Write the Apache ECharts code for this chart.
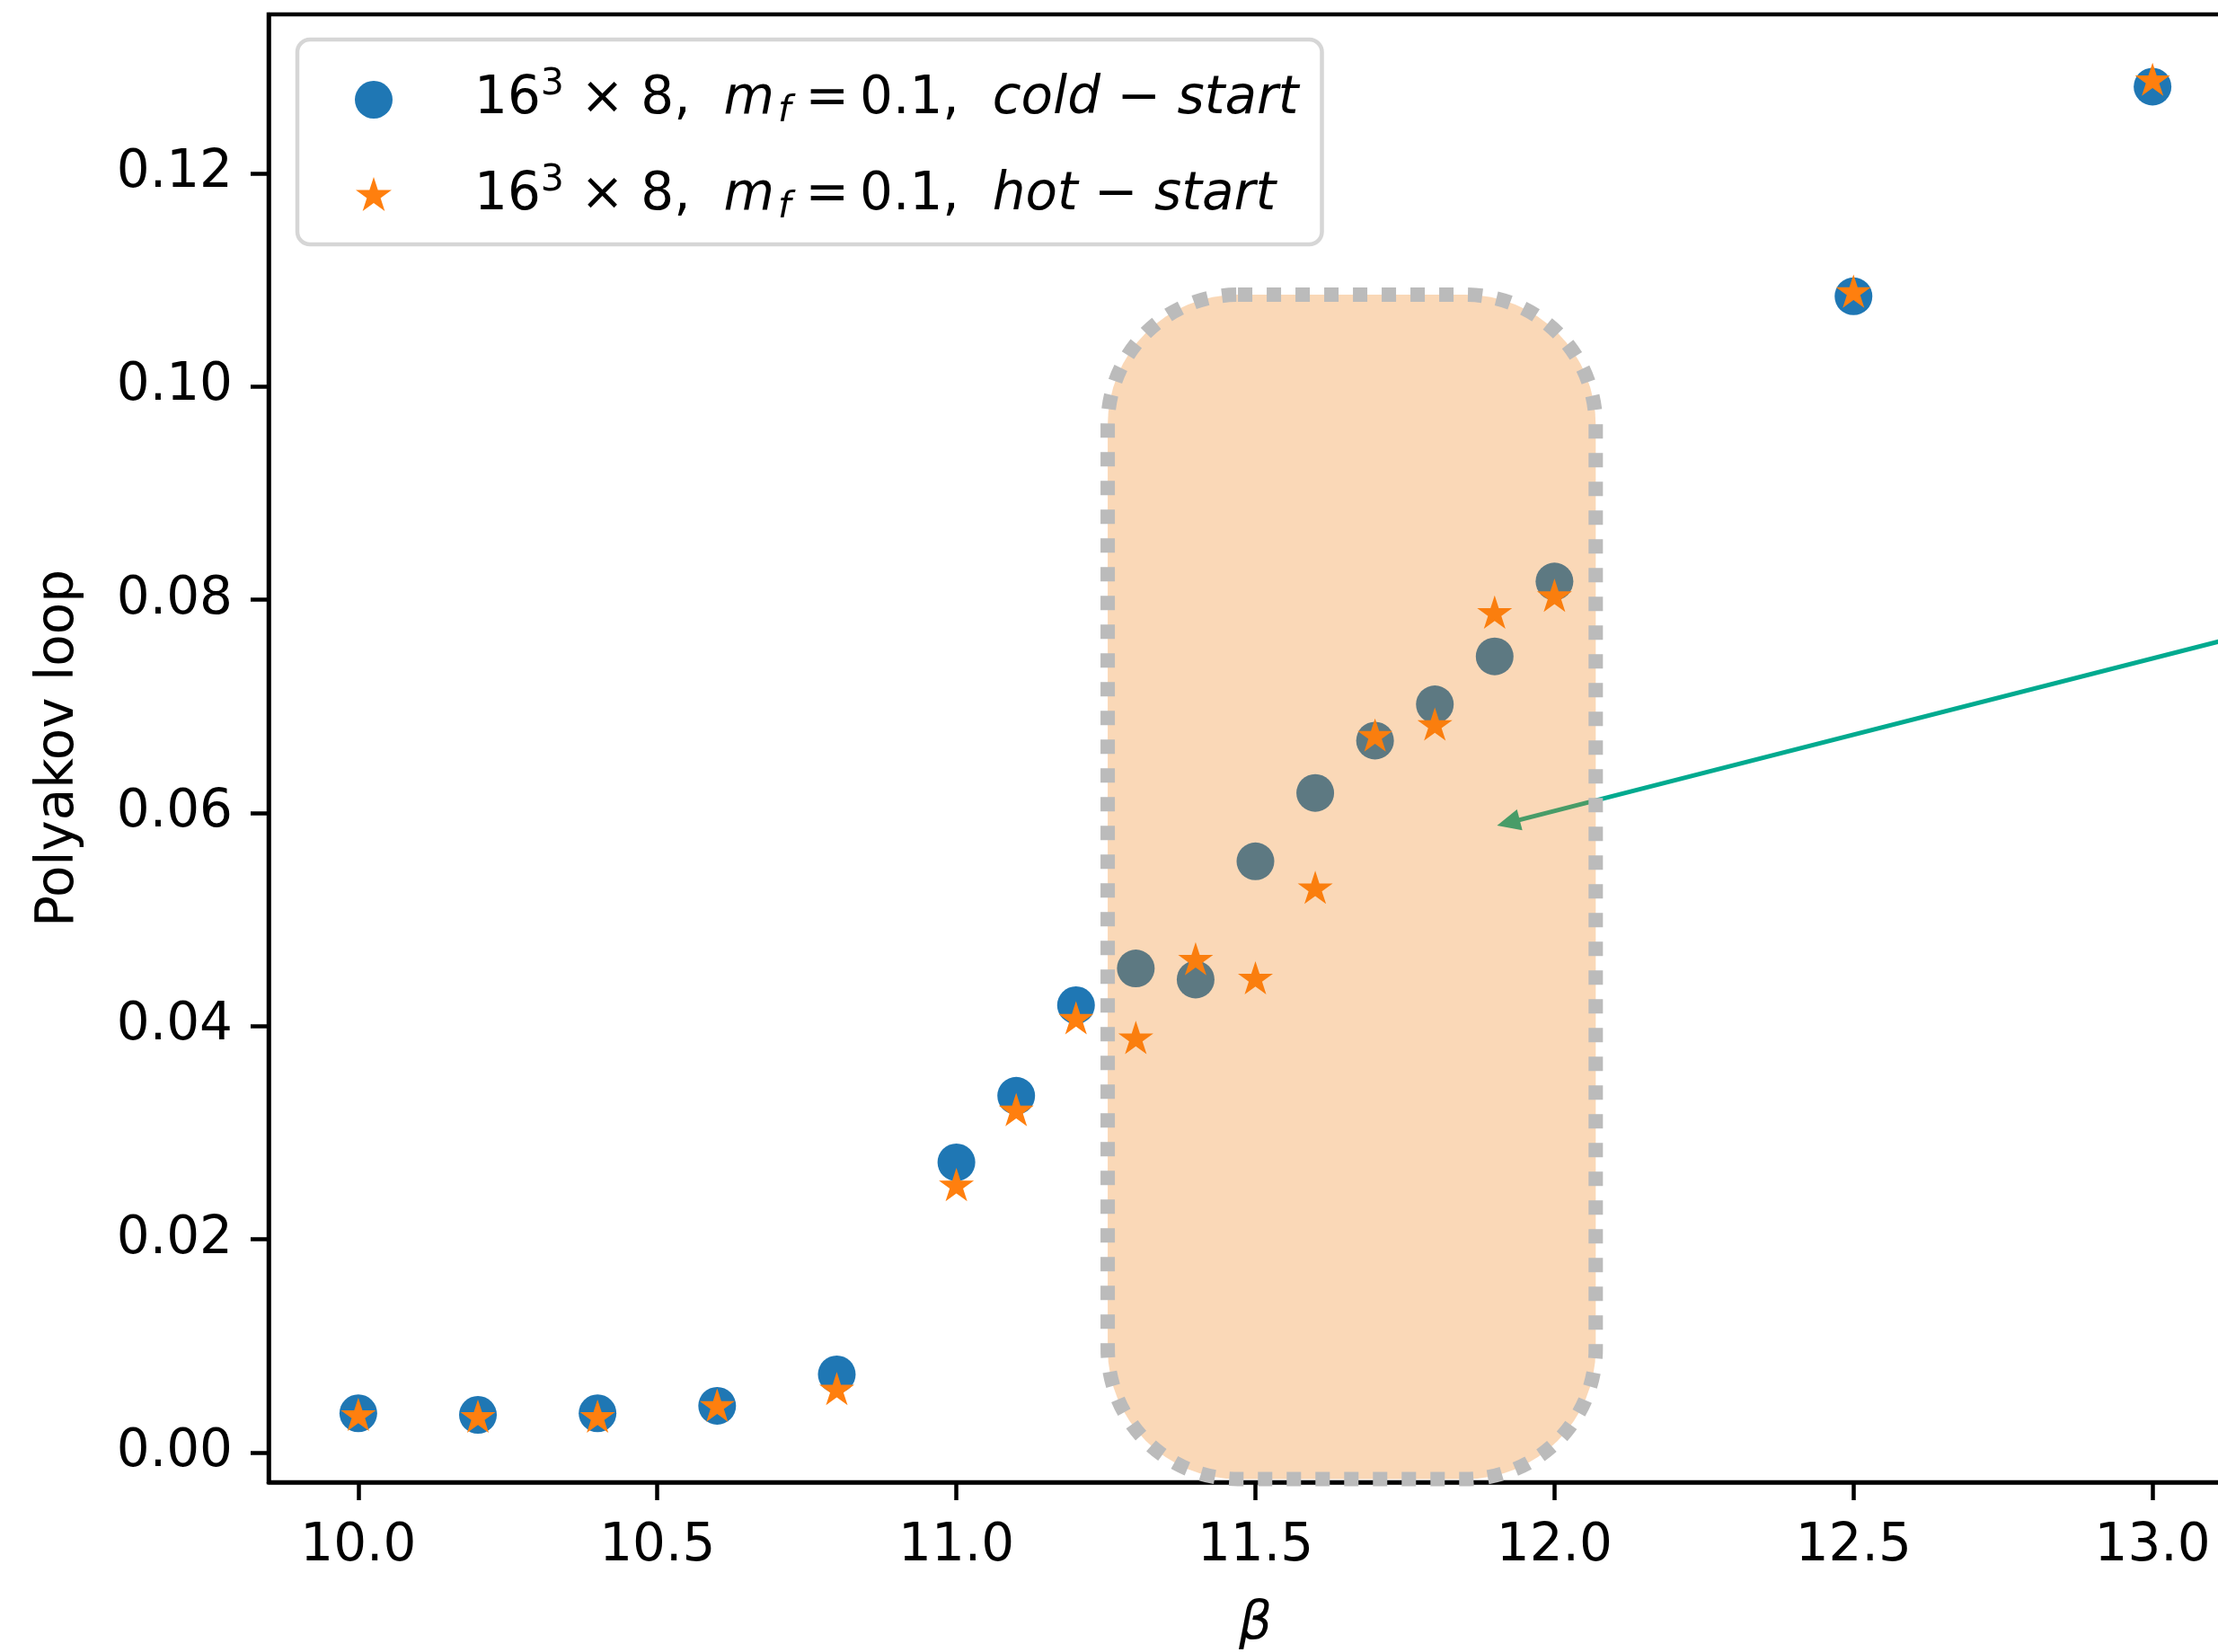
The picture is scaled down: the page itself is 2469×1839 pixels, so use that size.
<!DOCTYPE html>
<html><head><meta charset="utf-8">
<script src="https://cdn.jsdelivr.net/npm/echarts@6/dist/echarts.min.js"></script>
<style>html,body{margin:0;padding:0;background:#fff}#c{width:2469px;height:1839px}</style>
</head><body><div id="c"></div>
<script>
// ---- data ----
const betaCold = [10.0, 10.2, 10.4, 10.6, 10.8, 11.0, 11.1, 11.2, 11.3, 11.4, 11.5, 11.6, 11.7, 11.8, 11.9, 12.0, 12.5, 13.0];
const polyCold = [0.00367, 0.00352, 0.00367, 0.00437, 0.00732, 0.02721, 0.03345, 0.04195, 0.0454, 0.04436, 0.05545, 0.06186, 0.06677, 0.07017, 0.07467, 0.0817, 0.10845, 0.12812];
const betaHot = [10.0, 10.2, 10.4, 10.6, 10.8, 11.0, 11.1, 11.2, 11.3, 11.4, 11.5, 11.6, 11.7, 11.8, 11.9, 12.0, 12.5, 13.0];
const polyHot = [0.0034, 0.00323, 0.00323, 0.00427, 0.00582, 0.02496, 0.0320, 0.0406, 0.03876, 0.04614, 0.04436, 0.05284, 0.06713, 0.06816, 0.07866, 0.08024, 0.10877, 0.12864];
const xTicks = [10.0, 10.5, 11.0, 11.5, 12.0, 12.5, 13.0];
const yTicks = [0.00, 0.02, 0.04, 0.06, 0.08, 0.10, 0.12];
const seriesNames = ['cold', 'hot'];
const highlightBeta = [11.253, 12.069];
const highlightPoly = [-0.0025, 0.1086];
const arrowFrom = [13.4, 0.0802];
const arrowTo = [11.904, 0.0588];

// ---- styles ----
const FONT = 'DejaVu Sans';
const STAR = 'path://M0,-100 L22.45,-30.9 L95.11,-30.9 L36.33,11.8 L58.78,80.9 L0,38.2 L-58.78,80.9 L-36.33,11.8 L-95.11,-30.9 L-22.45,-30.9 Z M0,100 L0,100';
const zip = (a, b) => a.map((v, i) => [v, b[i]]);

const legendText = {
  cold: '{lead|16}{sup|3}{n| × 8,  }{i|m}{sub|f}{rel|=}{n|0.1,  }{i|cold}{n| − }{i|start}',
  hot:  '{lead|16}{sup|3}{n| × 8,  }{i|m}{sub|f}{rel|=}{n|0.1,  }{i|hot}{n| − }{i|start}'
};

const chart = echarts.init(document.getElementById('c'), null, {renderer: 'canvas'});
chart.setOption({
  animation: false,
  backgroundColor: '#fff',
  grid: {left: 299, top: 16, width: 2197, height: 1634, outerBoundsMode: 'none', containLabel: false,
         show: true, borderColor: '#000', borderWidth: 4.5, backgroundColor: 'transparent'},
  xAxis: {
    type: 'value', min: 9.85, max: 13.15,
    splitLine: {show: false},
    axisLine: {show: true, onZero: false, lineStyle: {color: '#000', width: 4.5}},
    axisTick: {show: true, inside: false, length: 20, customValues: xTicks, lineStyle: {color: '#000', width: 4.5}},
    axisLabel: {customValues: xTicks, formatter: v => v.toFixed(1), fontSize: 58, fontFamily: FONT, color: '#000', margin: 43},
    name: 'β', nameLocation: 'middle', nameGap: 130,
    nameTextStyle: {fontSize: 58, fontFamily: FONT, fontStyle: 'italic', color: '#000'}
  },
  yAxis: {
    type: 'value', min: -0.0028, max: 0.1349,
    splitLine: {show: false},
    axisLine: {show: true, onZero: false, lineStyle: {color: '#000', width: 4.5}},
    axisTick: {show: true, inside: false, length: 20, customValues: yTicks, lineStyle: {color: '#000', width: 4.5}},
    axisLabel: {customValues: yTicks, formatter: v => v.toFixed(2), fontSize: 58, fontFamily: FONT, color: '#000', margin: 40},
    name: 'Polyakov loop', nameLocation: 'middle', nameGap: 204, nameRotate: 90,
    nameTextStyle: {fontSize: 58, fontFamily: FONT, color: '#000'}
  },
  legend: {
    orient: 'vertical', left: 331, top: 44,
    padding: [30, 26, 17, 64],
    itemGap: 33, itemWidth: 130, itemHeight: 42,
    selectedMode: false,
    backgroundColor: '#fff', borderColor: '#d6d6d6', borderWidth: 4.5, borderRadius: 14,
    data: [{name: 'cold'}, {name: 'hot', icon: STAR}],
    formatter: name => legendText[name],
    textStyle: {
      fontSize: 58, fontFamily: FONT, color: '#000',
      rich: {
        lead: {fontSize: 58, fontFamily: FONT, color: '#000', lineHeight: 70, padding: [0, 0, 0, 42]},
        n: {fontSize: 58, fontFamily: FONT, color: '#000', lineHeight: 70},
        i: {fontSize: 58, fontFamily: FONT, fontStyle: 'italic', color: '#000', lineHeight: 70},
        rel: {fontSize: 58, fontFamily: FONT, color: '#000', lineHeight: 70, padding: [0, 12, 0, 16]},
        sup: {fontSize: 41, fontFamily: FONT, color: '#000', lineHeight: 37, padding: [0, 0, 33, 0]},
        sub: {fontSize: 41, fontFamily: FONT, fontStyle: 'italic', color: '#000', lineHeight: 43, padding: [27, 0, 0, 4]}
      }
    }
  },
  series: [
    {
      name: seriesNames[0], type: 'scatter', z: 2,
      data: zip(betaCold, polyCold),
      symbol: 'circle', symbolSize: 42,
      itemStyle: {color: '#1f77b4', opacity: 1},
      emphasis: {disabled: true}
    },
    {
      name: seriesNames[1], type: 'scatter', z: 3,
      data: zip(betaHot, polyHot),
      symbol: STAR, symbolSize: [39, 41],
      itemStyle: {color: '#ff7f0e', opacity: 1},
      emphasis: {disabled: true}
    },
    {
      type: 'custom', z: 5, clip: false, silent: true,
      data: [[arrowFrom[0], arrowFrom[1], arrowTo[0], arrowTo[1]]],
      encode: {x: [0, 2], y: [1, 3]},
      renderItem: (params, api) => {
        const a = api.coord([api.value(0), api.value(1)]);
        const b = api.coord([api.value(2), api.value(3)]);
        const dx = b[0] - a[0], dy = b[1] - a[1];
        const L = Math.hypot(dx, dy), ux = dx / L, uy = dy / L;
        const hl = 26, hw = 12;
        const base = [b[0] - ux * hl, b[1] - uy * hl];
        const col = '#00aa8f';
        return {type: 'group', children: [
          {type: 'line', shape: {x1: a[0], y1: a[1], x2: base[0] + ux * 4, y2: base[1] + uy * 4}, style: {stroke: col, lineWidth: 5}},
          {type: 'polygon', shape: {points: [b, [base[0] - uy * hw, base[1] + ux * hw], [base[0] + uy * hw, base[1] - ux * hw]]}, style: {fill: col}}
        ]};
      }
    },
    {
      type: 'custom', z: 10, clip: false, silent: true,
      data: [[highlightBeta[0], highlightPoly[1], highlightBeta[1], highlightPoly[0]]],
      encode: {x: [0, 2], y: [1, 3]},
      renderItem: (params, api) => {
        const p1 = api.coord([api.value(0), api.value(1)]);
        const p2 = api.coord([api.value(2), api.value(3)]);
        return {type: 'rect',
          shape: {x: p1[0], y: p1[1], width: p2[0] - p1[0], height: p2[1] - p1[1], r: 145},
          style: {fill: 'rgba(238,126,16,0.3)', stroke: '#bbbbbb', lineWidth: 16, lineDash: [16, 16]}};
      }
    }
  ]
});
</script>
</body></html>
